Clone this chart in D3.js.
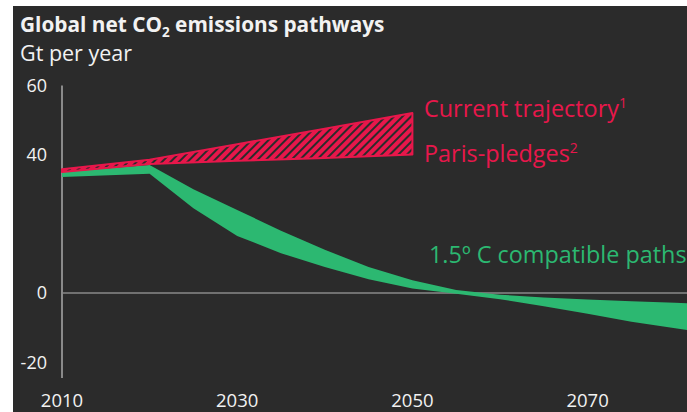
<!DOCTYPE html>
<html><head><meta charset="utf-8">
<script src="https://cdn.jsdelivr.net/npm/d3@7"></script>
<style>
html,body{margin:0;padding:0;background:#fff;}
svg{display:block;}
</style></head>
<body>
<script>
// ---- data ----
const yTicks = [-20, 0, 40, 60];
const xTicks = [2010, 2030, 2050, 2070];
const redYears = [2010, 2020, 2030, 2040, 2050];
const redUpper = [35.8, 38.5, 43, 47.5, 52];
const redLower = [35, 37.3, 38.2, 39, 40];
const greenYears = [2010, 2020, 2025, 2030, 2035, 2040, 2045, 2050, 2055, 2060, 2065, 2070, 2075, 2080, 2082];
const greenUpper = [35, 37, 30, 24, 18, 12.5, 7.5, 3.7, 0.9, -0.5, -1.3, -1.9, -2.4, -2.8, -3];
const greenLower = [33.5, 34.5, 24.5, 16.5, 11.5, 7.5, 4, 1.3, -0.2, -1.8, -3.8, -6, -8.3, -10.2, -10.9];

const W = 687, H = 412;
const RED = "#e8174b", GREEN = "#2cb871", BG = "#2b2b2b", TXT = "#f2f2f2", AX = "#8a8a8a";
const FONT = "'Open Sans', Lato, sans-serif";

const svg = d3.select("body").append("svg").attr("width", W).attr("height", H);
svg.append("rect").attr("x", 13).attr("y", 6).attr("width", W - 13).attr("height", H - 6).attr("fill", BG);

const x = d3.scaleLinear().domain([2010, 2080]).range([62, 62 + 70 * 8.76]);
const y = d3.scaleLinear().domain([-20, 60]).range([362.2, 85.4]);

// hatch pattern
const defs = svg.append("defs");
const pat = defs.append("pattern").attr("id", "hatch").attr("patternUnits", "userSpaceOnUse")
  .attr("width", 6).attr("height", 6).attr("patternTransform", "rotate(45)");
pat.append("rect").attr("width", 6).attr("height", 6).attr("fill", RED);
pat.append("rect").attr("x", 0).attr("width", 2).attr("height", 6).attr("fill", BG);

// title
const title = svg.append("text").attr("x", 20).attr("y", 32).attr("fill", TXT)
  .attr("font-family", FONT).attr("font-weight", "bold").attr("font-size", 20.8);
title.append("tspan").text("Global net CO");
title.append("tspan").attr("font-size", 13.5).attr("dy", 5).text("2");
title.append("tspan").attr("dy", -5).text(" emissions pathways");
svg.append("text").attr("x", 20).attr("y", 61).attr("fill", TXT)
  .attr("font-family", FONT).attr("font-size", 21.5).text("Gt per year");

// zero line
svg.append("line").attr("x1", x(2010)).attr("x2", W).attr("y1", y(0)).attr("y2", y(0))
  .attr("stroke", AX).attr("stroke-width", 1.5);
// y axis line
svg.append("line").attr("x1", x(2010)).attr("x2", x(2010)).attr("y1", y(60)).attr("y2", y(-24.6))
  .attr("stroke", AX).attr("stroke-width", 2);

// y tick labels
svg.append("g").selectAll("text").data(yTicks).join("text")
  .attr("x", 47).attr("y", d => y(d)).attr("dy", "0.35em").attr("text-anchor", "end")
  .attr("fill", TXT).attr("font-family", FONT).attr("font-size", 18).text(d => d);
// x tick labels
svg.append("g").selectAll("text").data(xTicks).join("text")
  .attr("x", d => x(d)).attr("y", 407).attr("text-anchor", "middle")
  .attr("fill", TXT).attr("font-family", FONT).attr("font-size", 18.5).text(d => d);

// green band
const gData = greenYears.map((yr, i) => ({yr, hi: greenUpper[i], lo: greenLower[i]}));
svg.append("path").datum(gData)
  .attr("d", d3.area().x(d => x(d.yr)).y0(d => y(d.lo)).y1(d => y(d.hi)))
  .attr("fill", GREEN);

// red band
const rData = redYears.map((yr, i) => ({yr, hi: redUpper[i], lo: redLower[i]}));
svg.append("path").datum(rData)
  .attr("d", d3.area().x(d => x(d.yr)).y0(d => y(d.lo)).y1(d => y(d.hi)))
  .attr("fill", "url(#hatch)").attr("stroke", RED).attr("stroke-width", 2).attr("stroke-linejoin", "round");

// annotations
function annot(xp, yp, txt, sup, color) {
  const t = svg.append("text").attr("x", xp).attr("y", yp).attr("fill", color)
    .attr("font-family", FONT).attr("font-size", 23.4);
  t.append("tspan").text(txt);
  if (sup) t.append("tspan").attr("font-size", 14).attr("dy", -9).text(sup);
  return t;
}
annot(424, 117, "Current trajectory", "1", RED);
annot(424, 162, "Paris-pledges", "2", RED);
const g = svg.append("text").attr("x", 429).attr("y", 263).attr("fill", GREEN)
  .attr("font-family", FONT).attr("font-size", 23.4);
g.append("tspan").text("1.5");
g.append("tspan").text("º");
g.append("tspan").text(" C compatible paths");
</script>
</body></html>
